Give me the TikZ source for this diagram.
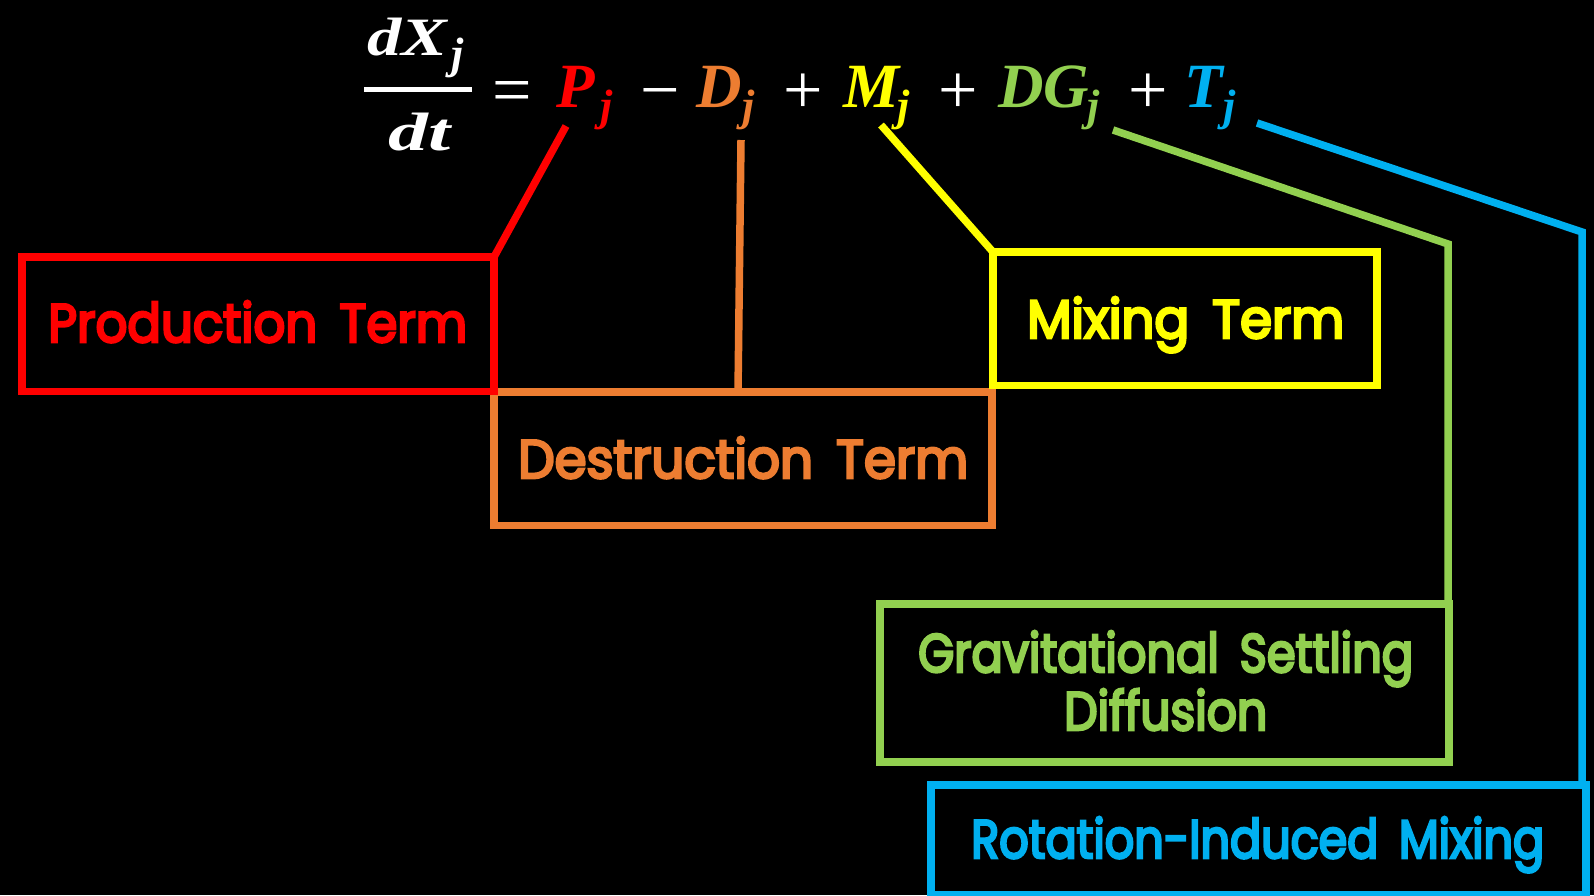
\documentclass[tikz,border=0pt]{standalone}
\usepackage{fontspec}
\usepackage{graphicx}
\usetikzlibrary{calc}
\setmainfont{Liberation Serif}
\newfontfamily\labfont{Poppins}[FakeBold=5]
\definecolor{cred}{HTML}{FF0000}
\definecolor{corange}{HTML}{ED7D31}
\definecolor{cyellow}{HTML}{FFFF00}
\definecolor{cgreen}{HTML}{92D050}
\definecolor{cblue}{HTML}{00B0F0}
\newcommand{\fitto}[2]{\resizebox{#1}{\height}{#2}}
\newcommand{\ws}{\hspace{0.45em}}
\begin{document}
\begin{tikzpicture}[x=1pt,y=-1pt,
  box/.style={draw=#1, line width=7.5pt, inner sep=0pt, outer sep=0pt},
  conn/.style={draw=#1, line width=7.5pt},
  lab/.style={text=#1, anchor=base west, inner sep=0pt, font=\labfont\fontsize{54}{60}\selectfont},
  eq/.style={text=#1, anchor=base west, inner sep=0pt, font=\bfseries\itshape\fontsize{63}{70}\selectfont},
  fr/.style={text=#1, anchor=base west, inner sep=0pt, font=\bfseries\itshape\fontsize{54}{60}\selectfont},
  sub/.style={text=#1, anchor=base west, inner sep=0pt, font=\bfseries\itshape\fontsize{44}{50}\selectfont},
  op/.style={text=#1, anchor=base west, inner sep=0pt, font=\fontsize{70}{80}\selectfont},
]
\fill[black] (0,0) rectangle (1594,895);
\useasboundingbox (0,0) rectangle (1594,895);

% boxes
\node[box=corange, minimum width=498pt, minimum height=133.5pt] (dest) at (743,458.75) {};
\node[box=cred, minimum width=472pt, minimum height=134.5pt] (prod) at (258,324.25) {};
\node[box=cyellow, minimum width=384pt, minimum height=133.5pt] (mix) at (1185,318.75) {};
\node[box=cgreen, minimum width=569pt, minimum height=158pt] (grav) at (1164.5,683) {};
\node[box=cblue, minimum width=655pt, minimum height=110pt] (rot) at (1258.5,840) {};

% box texts
\node[lab=cred] (tprod) at (48,342) {\fitto{419pt}{Production\ws Term}};
\node[lab=corange] (tdest) at (518,478) {\fitto{450pt}{Destruction\ws Term}};
\node[lab=cyellow] (tmix) at (1027,338) {\fitto{317pt}{Mixing\ws Term}};
\node[lab=cgreen] (tgrav1) at (918,672) {\fitto{495pt}{Gravitational\ws Settling}};
\node[lab=cgreen] (tgrav2) at (1064,730) {\fitto{203pt}{Diffusion}};
\node[lab=cblue] (trot) at (971,858) {\fitto{573pt}{Rotation-Induced\ws Mixing}};

% equation
\node[fr=white] (num) at (367,55) {\fitto{80pt}{dX}};
\node[sub=white] (numj) at (451,68) {j};
\draw[white, line width=4.5pt] (364,89.5) -- (472,89.5);
\node[fr=white] (den) at (388,150) {\fitto{62pt}{dt}};
\node[op=white] (eqs) at (492,113) {=};
\node[eq=cred] (P) at (556,107) {P};
\node[sub=cred] (Pj) at (600,120) {j};
\node[op=white] (minus) at (640,113) {−};
\node[eq=corange] (D) at (696,107) {D};
\node[sub=corange] (Dj) at (742,120) {j};
\node[op=white] (plusA) at (783,113) {+};
\node[eq=cyellow] (M) at (843,107) {M};
\node[sub=cyellow] (Mj) at (897,120) {j};
\node[op=white] (plusB) at (938,113) {+};
\node[eq=cgreen] (DG) at (998,107) {DG};
\node[sub=cgreen] (DGj) at (1087,120) {j};
\node[op=white] (plusC) at (1128,113) {+};
\node[eq=cblue] (T) at (1184,107) {T};
\node[sub=cblue] (Tj) at (1223,120) {j};

% connectors
\coordinate (pS) at (566,126);
\draw[conn=cred] (pS) -- (prod.north east);
\coordinate (dS) at (741,140);
\draw[conn=corange] (dS) -- ($(dest.north west)+(244,0)$);
\coordinate (mS) at (881,125);
\draw[conn=cyellow] (mS) -- (mix.north west);
\coordinate (gS) at (1113,130);
\coordinate (gC) at (1448,244);
\draw[conn=cgreen] (gS) -- (gC) -- (gC |- grav.north);
\coordinate (bS) at (1257,123);
\coordinate (bC) at (1582,232);
\draw[conn=cblue] (bS) -- (bC) -- (bC |- rot.north);
\end{tikzpicture}
\end{document}
